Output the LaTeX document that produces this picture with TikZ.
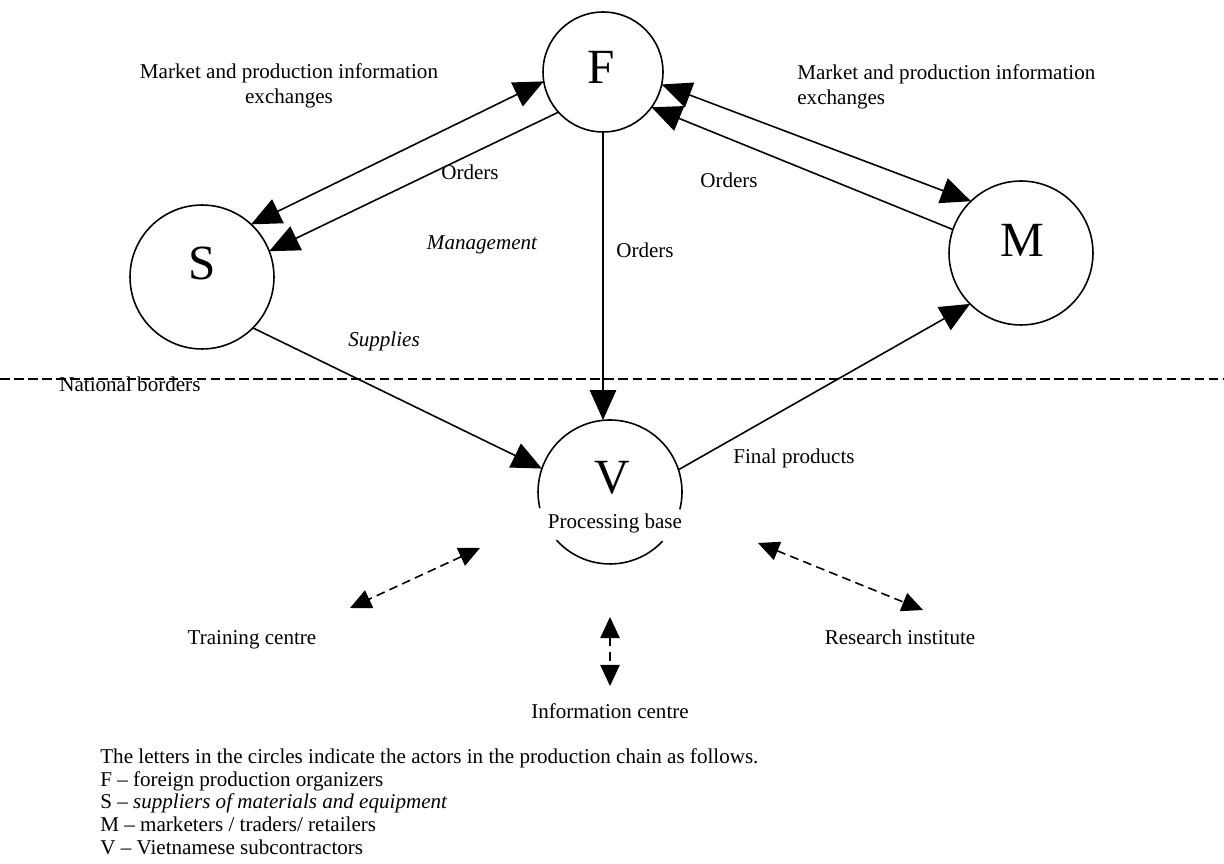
\documentclass[tikz,border=0pt]{standalone}
\usepackage{fontspec}
\setmainfont{Liberation Serif}
\usetikzlibrary{arrows.meta}

\tikzset{
	actor/.style={circle, draw, line width=0.9pt, minimum size=2.88cm, inner sep=0pt, outer sep=0pt},
	actorletter/.style={font=\fontsize{28}{30}\selectfont, inner sep=0pt},
	lbl/.style={font=\fontsize{12}{14}\selectfont, inner sep=0pt},
	flow/.style={line width=0.9pt, -{Triangle[length=17pt,width=15pt]}},
	flowboth/.style={line width=0.9pt, {Triangle[length=17pt,width=15pt]}-{Triangle[length=17pt,width=15pt]}},
	link/.style={line width=0.9pt, dash pattern=on 5pt off 3pt, {Triangle[length=12pt,width=11pt]}-{Triangle[length=12pt,width=11pt]}}
}

\begin{document}
\begin{tikzpicture}[x=0.02cm, y=-0.02cm]
		\useasboundingbox (0,0) rectangle (1224,864);

		% actors
		\node [actor, minimum size=2.4cm] (F) at (603,72) {};
		\node [actor] (S) at (202,277) {};
		\node [actor] (M) at (1021,253) {};
		\node [actor, draw=none] (V) at (610,492) {};
		\node [actorletter] (Fltr) at (601,67) {F};
		\node [actorletter] (Sltr) at (202,263) {S};
		\node [actorletter] (Mltr) at (1022,240) {M};
		\node [actorletter] (Vltr) at (612,478) {V};

		% V is broken where its caption runs through it
		\draw [line width=0.9pt] (V.-14) arc [start angle=-14, end angle=193, radius=1.44cm];
		\draw [line width=0.9pt] (V.222) arc [start angle=222, end angle=317, radius=1.44cm];
		\node [lbl] (proc) at (615,523) {Processing base};

		% national border
		\node [lbl, anchor=north west] (border) at (59,377) {National borders};
		\draw [line width=0.9pt, dash pattern=on 5.5pt off 2.5pt] (0,379) -- (1224,379);

		% F -- S
		\draw [flowboth] (F.189) -- (S.47);
		\draw [flow] (F.222) -- (S.21);
		\node [lbl, align=center] (mktS) at (289,86) {Market and production information\\exchanges};
		\node [lbl] (ordS) at (470,172) {Orders};

		% F -- M
		\draw [flowboth] (F.-12) -- (M.134);
		\draw [flow] (M.161) -- (F.-36);
		\node [lbl, align=left, anchor=west] (mktM) at (797,87) {Market and production information\\exchanges};
		\node [lbl] (ordM) at (729,180) {Orders};

		% F -- V
		\draw [flow] (F.south) -- (V.north -| F.south);
		\node [lbl, font=\fontsize{12}{14}\selectfont\itshape] (mgmt) at (482,245) {Management};
		\node [lbl] (ordV) at (645,250) {Orders};

		% S -- V -- M
		\draw [flow] (S.-45) -- (V.161);
		\node [lbl, font=\fontsize{12}{14}\selectfont\itshape] (supp) at (384,341) {Supplies};
		\draw [flow] (V.18) -- (M.225);
		\node [lbl] (final) at (794,458) {Final products};

		% support around V
		\coordinate (trainA) at (480,548);
		\coordinate (trainB) at (350,608);
		\coordinate (infoA) at (610,617);
		\coordinate (infoB) at (610,686);
		\coordinate (resA) at (758,543);
		\coordinate (resB) at (923,610);
		\draw [link] (trainA) -- (trainB);
		\draw [link] (infoA) -- (infoB);
		\draw [link] (resA) -- (resB);
		\node [lbl] (train) at (252,640) {Training centre};
		\node [lbl] (info) at (610,711) {Information centre};
		\node [lbl] (res) at (900,637) {Research institute};

		% legend
		\node [lbl, align=left, anchor=north west, font=\fontsize{12}{13}\selectfont] (legend) at (100,748)
			{The letters in the circles indicate the actors in the production chain as follows.\\
			F -- foreign production organizers\\
			S -- \textit{suppliers of materials and equipment}\\
			M -- marketers / traders/ retailers\\
			V -- Vietnamese subcontractors};
\end{tikzpicture}
\end{document}
